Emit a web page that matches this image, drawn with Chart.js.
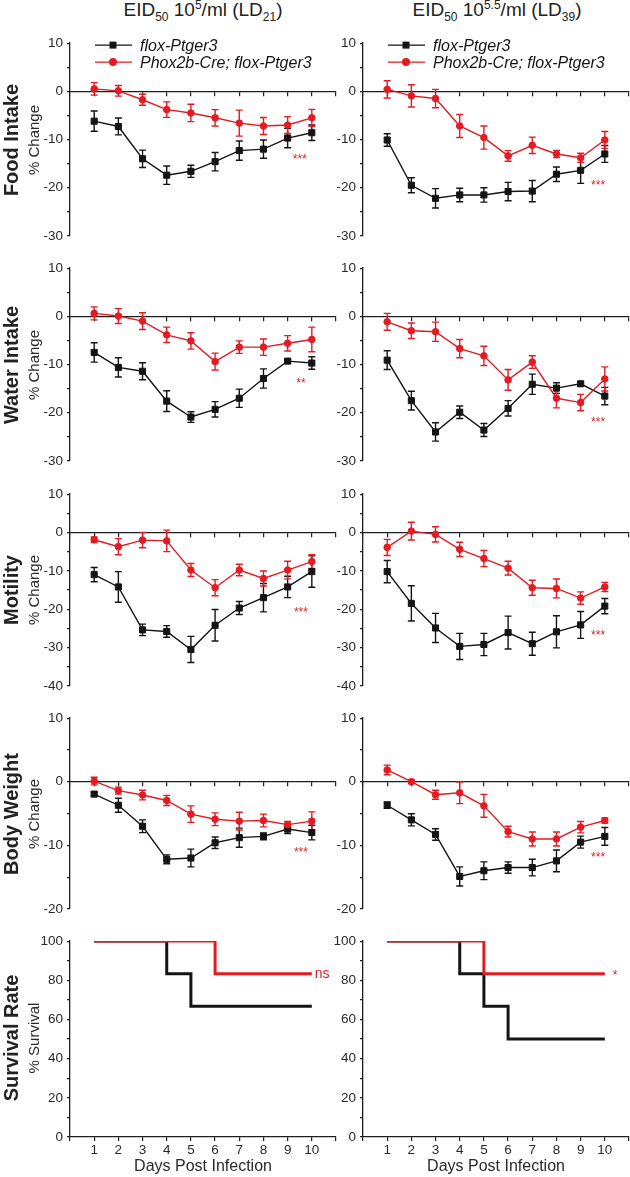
<!DOCTYPE html>
<html>
<head>
<meta charset="utf-8">
<script src="https://cdn.jsdelivr.net/npm/chart.js@4.4.1/dist/chart.umd.min.js"></script>
<style>
  body { margin: 0; width: 630px; height: 1177px; position: relative; overflow: hidden; background: #fff;
         font-family: "Liberation Sans", Arial, sans-serif; color: #222; }
  canvas { position: absolute; }
  .title { position: absolute; top: -1px; font-size: 19px; white-space: nowrap; transform: translateX(-50%); line-height: 22px; }
  .title sub, .title sup { font-size: 12px; line-height: 0; }
  .rowlab { position: absolute; white-space: nowrap; transform: translate(-50%, -50%) rotate(-90deg); }
  .rowlab.big { font-weight: bold; font-size: 20px; }
  .rowlab.small { font-size: 15px; color: #2a2a2a; }
</style>
</head>
<body>
<div class="title" style="left:203px">EID<sub>50</sub> 10<sup>5</sup>/ml (LD<sub>21</sub>)</div>
<div class="title" style="left:497px">EID<sub>50</sub> 10<sup>5.5</sup>/ml (LD<sub>39</sub>)</div>

<script>
// ---- data ----
var days = [1, 2, 3, 4, 5, 6, 7, 8, 9, 10];
var seriesNames = ["flox-Ptger3", "Phox2b-Cre; flox-Ptger3"];
var rowNames = ["Food Intake", "Water Intake", "Motility", "Body Weight", "Survival Rate"];
var axisNames = ["% Change", "% Change", "% Change", "% Change", "% Survival"];
var xTitle = "Days Post Infection";

// food intake
var foodL_flox = [-6.2, -7.3, -14.0, -17.4, -16.6, -14.6, -12.3, -12.0, -9.7, -8.6];
var foodL_floxErr = [2.1, 1.75, 1.8, 1.9, 1.25, 1.9, 2.0, 1.9, 2.0, 1.6];
var foodL_cre = [0.5, 0.1, -1.75, -3.8, -4.5, -5.5, -6.6, -7.2, -7.0, -5.5];
var foodL_creErr = [1.3, 1.1, 1.15, 1.6, 1.8, 1.7, 2.7, 1.75, 1.75, 1.75];
var foodR_flox = [-10.1, -19.5, -22.2, -21.5, -21.5, -20.8, -20.7, -17.2, -16.4, -13.0];
var foodR_floxErr = [1.3, 1.55, 2.0, 1.4, 1.5, 1.9, 2.2, 1.5, 2.7, 1.75];
var foodR_cre = [0.4, -0.95, -1.5, -7.2, -9.6, -13.4, -11.2, -13.0, -13.8, -10.1];
var foodR_creErr = [1.8, 2.3, 1.9, 2.4, 2.4, 1.1, 1.7, 0.75, 0.95, 1.75];

// water intake
var waterL_flox = [-7.5, -10.6, -11.4, -17.6, -20.9, -19.3, -17.0, -12.9, -9.3, -9.7];
var waterL_floxErr = [2.0, 2.0, 1.75, 2.15, 1.1, 1.6, 1.9, 2.0, 0.4, 1.3];
var waterL_cre = [0.6, 0.05, -1.0, -3.85, -5.1, -9.4, -6.4, -6.4, -5.6, -4.8];
var waterL_creErr = [1.35, 1.55, 1.75, 1.6, 1.7, 1.75, 1.3, 1.7, 1.6, 2.55];
var waterR_flox = [-9.1, -17.5, -24.0, -19.9, -23.6, -19.1, -14.1, -14.9, -14.0, -16.55];
var waterR_floxErr = [1.95, 1.95, 1.9, 1.3, 1.35, 1.6, 2.1, 1.1, 0.4, 1.8];
var waterR_cre = [-1.15, -3.0, -3.2, -6.7, -8.2, -13.2, -9.5, -17.0, -17.9, -13.0];
var waterR_creErr = [1.75, 1.6, 2.0, 1.9, 2.0, 2.15, 1.3, 2.0, 1.7, 2.5];

// motility
var motL_flox = [-11.0, -14.2, -25.4, -25.8, -30.5, -24.2, -19.7, -17.0, -14.2, -10.2];
var motL_floxErr = [1.85, 4.0, 1.5, 1.5, 3.4, 4.1, 1.7, 3.7, 2.8, 4.1];
var motL_cre = [-1.9, -3.7, -2.0, -2.2, -9.8, -14.4, -9.8, -12.0, -9.8, -7.6];
var motL_creErr = [0.7, 2.1, 2.0, 2.8, 1.7, 2.1, 1.5, 1.95, 2.3, 1.8];
var motR_flox = [-10.2, -18.5, -24.9, -29.7, -29.2, -26.1, -29.0, -25.9, -24.1, -19.2];
var motR_floxErr = [2.9, 4.6, 3.8, 3.4, 2.9, 4.3, 3.0, 4.2, 3.5, 2.0];
var motR_cre = [-3.9, 0.35, -0.5, -4.4, -6.8, -9.3, -14.4, -14.6, -17.1, -14.2];
var motR_creErr = [2.1, 2.3, 2.0, 1.85, 2.1, 1.8, 1.95, 2.45, 1.6, 1.2];

// body weight
var bodyL_flox = [-1.95, -3.7, -7.0, -12.2, -12.0, -9.6, -8.8, -8.6, -7.45, -8.0];
var bodyL_floxErr = [0.3, 1.1, 1.0, 0.7, 1.4, 0.9, 1.5, 0.55, 0.7, 1.15];
var bodyL_cre = [0.1, -1.4, -2.1, -2.95, -5.1, -5.9, -6.2, -6.1, -6.75, -6.2];
var bodyL_creErr = [0.6, 0.55, 0.75, 0.8, 1.3, 1.0, 1.4, 1.0, 0.5, 1.45];
var bodyR_flox = [-3.7, -6.0, -8.3, -14.9, -14.0, -13.5, -13.5, -12.45, -9.5, -8.6];
var bodyR_floxErr = [0.5, 0.95, 0.9, 1.5, 1.4, 0.9, 1.3, 1.7, 0.95, 1.4];
var bodyR_cre = [1.85, 0.0, -2.05, -1.75, -3.8, -7.85, -9.0, -9.0, -7.15, -6.1];
var bodyR_creErr = [0.75, 0.3, 0.7, 1.7, 1.8, 0.85, 1.1, 1.1, 0.9, 0.4];

// survival (step points)
var survL_floxX = [1, 4, 5, 10];
var survL_floxY = [100, 83.3, 66.7, 66.7];
var survL_creX = [1, 6, 10];
var survL_creY = [100, 83.3, 83.3];
var survR_floxX = [1, 4, 5, 6, 10];
var survR_floxY = [100, 83.3, 66.7, 50, 50];
var survR_creX = [1, 5, 10];
var survR_creY = [100, 83.3, 83.3];

// y ranges per row
var yMins = [-30, -30, -40, -20, 0];
var yMaxs = [10, 10, 10, 10, 100];

// significance labels [x, y, text]
var sigLeft = [[9.5, -14.2, "***"], [9.55, -14.0, "**"], [9.55, -20.9, "***"], [9.55, -11.1, "***"], [10.12, 83.3, "ns"]];
var sigRight = [[9.72, -19.5, "***"], [9.72, -22.1, "***"], [9.72, -26.8, "***"], [9.72, -12.0, "***"], [10.42, 82.3, "*"]];

// ---- drawing ----
var BLACK = "#141414";
var RED = "#e31b23";
var AXIS = "#1e1e1e";
Chart.defaults.font.family = '"Liberation Sans", Arial, sans-serif';
Chart.defaults.color = "#2a2a2a";

// plot area rows (top, bottom) in page pixels
var rows = [[41, 238], [266, 463], [492, 688], [716, 911], [939, 1137]];

var errorBars = {
    id: "errorBars",
    beforeDatasetsDraw: function(chart) {
        var ctx = chart.ctx;
        chart.data.datasets.forEach(function(ds, i) {
            if (!ds.err) return;
            var xs = chart.scales.x, ys = chart.scales.y;
            ctx.save();
            ctx.strokeStyle = ds.borderColor;
            ctx.lineWidth = 1.4;
            ds.data.forEach(function(p, j) {
                var x = xs.getPixelForValue(p.x);
                var y1 = ys.getPixelForValue(p.y + ds.err[j]);
                var y2 = ys.getPixelForValue(p.y - ds.err[j]);
                ctx.beginPath();
                ctx.moveTo(x, y1); ctx.lineTo(x, y2);
                ctx.moveTo(x - 3.5, y1); ctx.lineTo(x + 3.5, y1);
                ctx.moveTo(x - 3.5, y2); ctx.lineTo(x + 3.5, y2);
                ctx.stroke();
            });
            ctx.restore();
        });
    }
};

var sigMarks = {
    id: "sigMarks",
    afterDraw: function(chart, args, opts) {
        if (!opts.items) return;
        var ctx = chart.ctx;
        ctx.save();
        ctx.fillStyle = RED;
        ctx.textBaseline = "middle";
        opts.items.forEach(function(m) {
            var x = chart.scales.x.getPixelForValue(m[0]);
            var y = chart.scales.y.getPixelForValue(m[1]);
            if (m[2] === "ns") { ctx.font = '14px "Liberation Sans", Arial'; ctx.textAlign = "left"; }
            else { ctx.font = '12px "Liberation Sans", Arial'; ctx.textAlign = "center"; }
            ctx.fillText(m[2], x, y);
        });
        ctx.restore();
    }
};

var lineLegend = {
    id: "lineLegend",
    afterDraw: function(chart, args, opts) {
        if (!opts.show) return;
        var ctx = chart.ctx, a = chart.chartArea;
        ctx.save();
        chart.data.datasets.forEach(function(ds, i) {
            var y = a.top + 2 + i * 17;
            ctx.strokeStyle = ds.borderColor;
            ctx.fillStyle = ds.borderColor;
            ctx.lineWidth = 1.4;
            ctx.beginPath();
            ctx.moveTo(a.left + 25, y); ctx.lineTo(a.left + 62, y);
            ctx.stroke();
            if (ds.pointStyle === "rect") {
                ctx.fillRect(a.left + 43 - 3.5, y - 3.5, 7, 7);
            } else {
                ctx.beginPath(); ctx.arc(a.left + 43, y, 4, 0, Math.PI * 2); ctx.fill();
            }
            ctx.fillStyle = BLACK;
            ctx.font = 'italic 16px "Liberation Sans", Arial';
            ctx.textAlign = "left";
            ctx.textBaseline = "middle";
            ctx.fillText(ds.label, a.left + 70, y + 1);
        });
        ctx.restore();
    }
};

function addCanvas(left, top, w, h) {
    var c = document.createElement("canvas");
    c.width = w; c.height = h;
    c.style.left = left + "px";
    c.style.top = top + "px";
    document.body.appendChild(c);
    return c;
}

function yScale(min, max, yw, step, labelEvery) {
    return {
        min: min, max: max,
        border: { color: AXIS, width: 1.3 },
        grid: { drawOnChartArea: false, tickLength: 3, color: AXIS, lineWidth: 1.2 },
        ticks: { stepSize: step, autoSkip: false, padding: 4, font: { size: 13.5 },
                 callback: function(v) { return v % labelEvery === 0 ? v : ""; } },
        afterFit: function(s) { s.width = yw; }
    };
}

function pctPanel(col, row, flox, floxErr, cre, creErr, sig) {
    var left = col === 0 ? 0 : 290;
    var yw = col === 0 ? 70 : 73;
    var padR = col === 0 ? 4 : 1;
    var top = rows[row][0] - 10;
    var h = rows[row][1] - rows[row][0] + 20;
    new Chart(addCanvas(left, top, 340, h), {
        type: "line",
        data: {
            datasets: [{
                label: seriesNames[0],
                data: days.map(function(d, i) { return { x: d, y: flox[i] }; }),
                err: floxErr,
                borderColor: BLACK, backgroundColor: BLACK,
                pointStyle: "rect", pointRadius: 4.3, pointBorderWidth: 1,
                borderWidth: 1.4, order: 1
            }, {
                label: seriesNames[1],
                data: days.map(function(d, i) { return { x: d, y: cre[i] }; }),
                err: creErr,
                borderColor: RED, backgroundColor: RED,
                pointStyle: "circle", pointRadius: 3.3, pointBorderWidth: 1,
                borderWidth: 1.4, order: 0
            }]
        },
        options: {
            responsive: false, animation: false,
            layout: { padding: { top: 10, bottom: 10, left: 0, right: padR }, autoPadding: false },
            scales: {
                x: {
                    type: "linear", min: 0, max: 11, position: { y: 0 },
                    border: { color: AXIS, width: 1.3 },
                    grid: { drawOnChartArea: false, tickLength: 4, color: AXIS, lineWidth: 1.2 },
                    ticks: { display: false, stepSize: 1, autoSkip: false }
                },
                y: yScale(yMins[row], yMaxs[row], yw, 5, 10)
            },
            plugins: {
                legend: { display: false }, tooltip: { enabled: false },
                sigMarks: { items: [sig] },
                lineLegend: { show: row === 0 }
            }
        },
        plugins: [errorBars, sigMarks, lineLegend]
    });
}

function survPanel(col, fx, fy, cx, cy, sig) {
    var left = col === 0 ? 0 : 290;
    var yw = col === 0 ? 70 : 73;
    var padR = col === 0 ? 4 : 1;
    var top = rows[4][0] - 10;
    new Chart(addCanvas(left, top, 340, 1177 - top), {
        type: "line",
        data: {
            datasets: [{
                label: seriesNames[0],
                data: fx.map(function(d, i) { return { x: d, y: fy[i] }; }),
                borderColor: BLACK, borderWidth: 3, pointRadius: 0, stepped: true, order: 1
            }, {
                label: seriesNames[1],
                data: cx.map(function(d, i) { return { x: d, y: cy[i] }; }),
                borderColor: RED, borderWidth: 3, pointRadius: 0, stepped: true, order: 0
            }]
        },
        options: {
            responsive: false, animation: false,
            layout: { padding: { top: 10, bottom: 0, left: 0, right: padR }, autoPadding: false },
            scales: {
                x: {
                    type: "linear", min: 0, max: 11, position: "bottom",
                    border: { color: AXIS, width: 1.3 },
                    grid: { drawOnChartArea: false, tickLength: 4, color: AXIS, lineWidth: 1.2 },
                    ticks: { stepSize: 1, autoSkip: false, maxRotation: 0, padding: 1, font: { size: 13.5 },
                             callback: function(v) { return (v >= 1 && v <= 10) ? v : ""; } },
                    title: { display: true, text: xTitle, font: { size: 16 }, color: "#2a2a2a", padding: { top: 0, bottom: 1 } },
                    afterFit: function(s) { s.height = 40; }
                },
                y: yScale(yMins[4], yMaxs[4], yw, 10, 20)
            },
            plugins: {
                legend: { display: false }, tooltip: { enabled: false },
                sigMarks: { items: [sig] }
            }
        },
        plugins: [sigMarks]
    });
}

pctPanel(0, 0, foodL_flox, foodL_floxErr, foodL_cre, foodL_creErr, sigLeft[0]);
pctPanel(1, 0, foodR_flox, foodR_floxErr, foodR_cre, foodR_creErr, sigRight[0]);
pctPanel(0, 1, waterL_flox, waterL_floxErr, waterL_cre, waterL_creErr, sigLeft[1]);
pctPanel(1, 1, waterR_flox, waterR_floxErr, waterR_cre, waterR_creErr, sigRight[1]);
pctPanel(0, 2, motL_flox, motL_floxErr, motL_cre, motL_creErr, sigLeft[2]);
pctPanel(1, 2, motR_flox, motR_floxErr, motR_cre, motR_creErr, sigRight[2]);
pctPanel(0, 3, bodyL_flox, bodyL_floxErr, bodyL_cre, bodyL_creErr, sigLeft[3]);
pctPanel(1, 3, bodyR_flox, bodyR_floxErr, bodyR_cre, bodyR_creErr, sigRight[3]);
survPanel(0, survL_floxX, survL_floxY, survL_creX, survL_creY, sigLeft[4]);
survPanel(1, survR_floxX, survR_floxY, survR_creX, survR_creY, sigRight[4]);

// row labels on the left
rows.forEach(function(r, i) {
    var mid = (r[0] + r[1]) / 2;
    var big = document.createElement("div");
    big.className = "rowlab big";
    big.style.left = "11px"; big.style.top = mid + "px";
    big.textContent = rowNames[i];
    document.body.appendChild(big);
    var small = document.createElement("div");
    small.className = "rowlab small";
    small.style.left = "33px"; small.style.top = mid + "px";
    small.textContent = axisNames[i];
    document.body.appendChild(small);
});
</script>
</body>
</html>
